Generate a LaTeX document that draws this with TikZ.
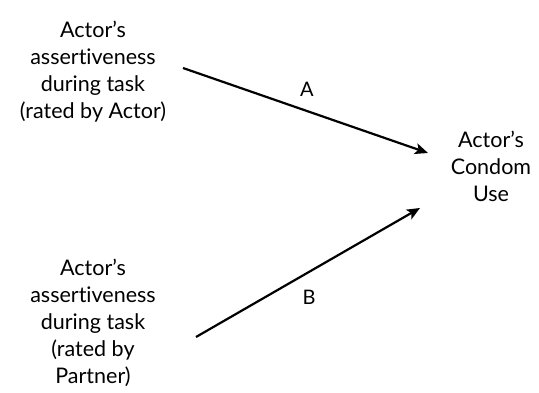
\documentclass[tikz,border=0pt]{standalone}
\usepackage{fontspec}
\setmainfont{Lato}[Ligatures={NoCommon}]
\usetikzlibrary{arrows.meta}
\begin{document}
\begin{tikzpicture}[x=1pt,y=-1pt,
  lbl/.style={align=center,font=\fontsize{21.5}{27}\selectfont,inner sep=0pt},
  conn/.style={line width=2.2pt,-{Stealth[length=13pt,width=11pt,inset=3pt]}},
  tag/.style={font=\fontsize{20}{22}\selectfont,inner sep=0pt}]
\useasboundingbox (0,0) rectangle (539,393);
\node[lbl] (actor) at (93,72) {Actor’s\\assertiveness\\during task\\(rated by Actor)};
\node[lbl] (partner) at (93,323) {Actor’s\\assertiveness\\during task\\(rated by\\Partner)};
\node[lbl] (use) at (491,166) {Actor’s\\Condom\\Use};
\coordinate (a1) at (183,68);
\coordinate (a2) at (428,153);
\coordinate (b1) at (196,337);
\coordinate (b2) at (420,208);
\draw[conn] (a1) -- (a2);
\draw[conn] (b1) -- (b2);
\node[tag] (la) at (307,89) {A};
\node[tag] (lb) at (309,297) {B};
\end{tikzpicture}
\end{document}
